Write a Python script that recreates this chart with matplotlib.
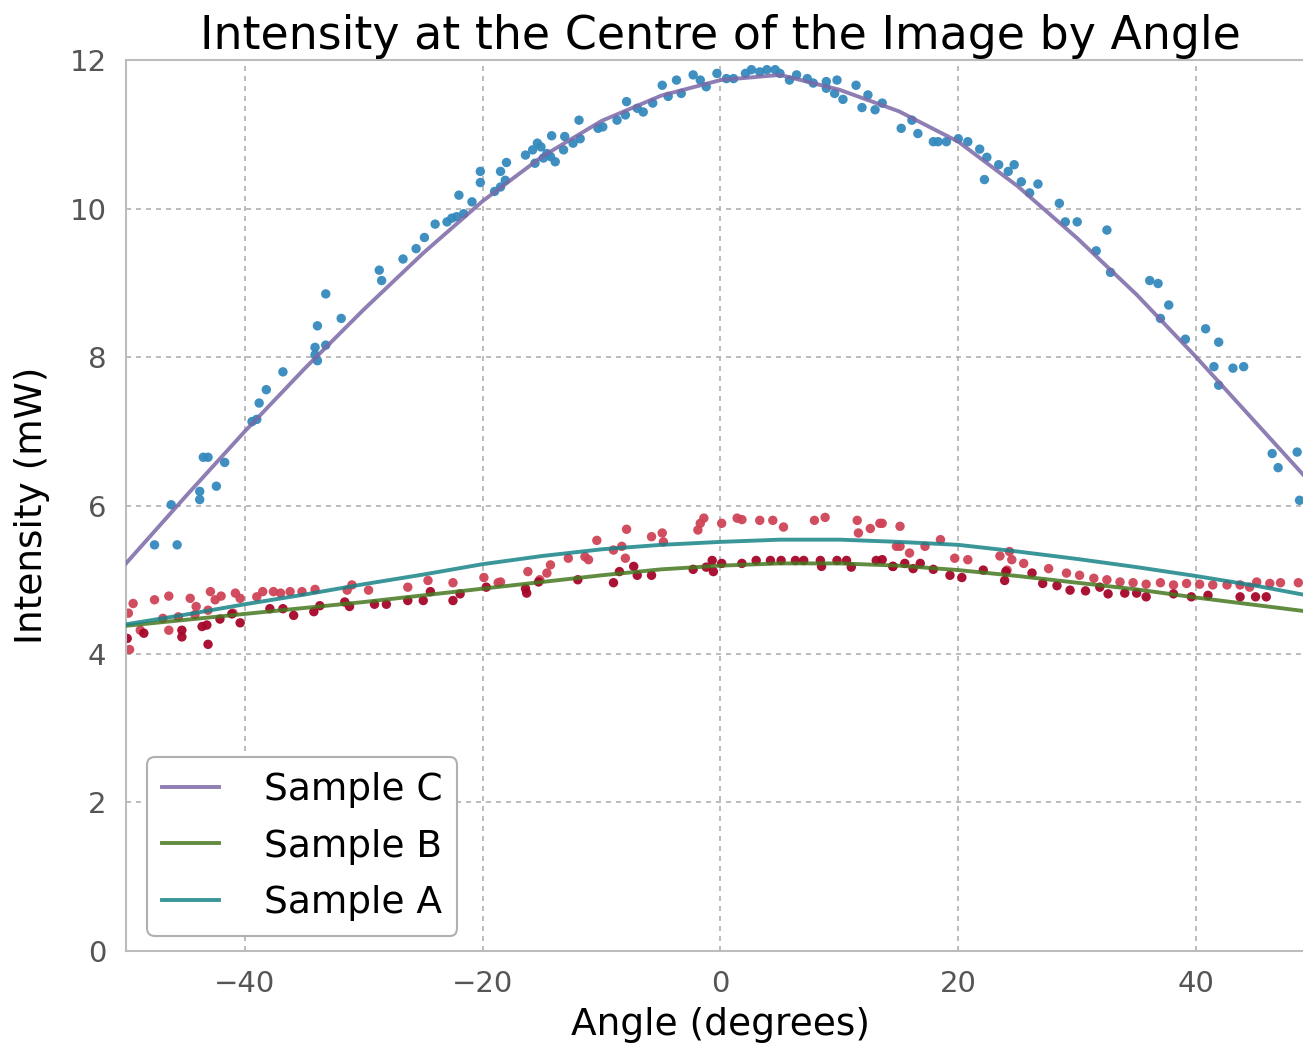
import matplotlib
matplotlib.use("Agg")
import matplotlib.pyplot as plt

# fitted curves, every 5 degrees
curve_x = [-50, -45, -40, -35, -30, -25, -20, -15, -10, -5, 0,
           5, 10, 15, 20, 25, 30, 35, 40, 45, 50]
curve_c = [5.22, 6.12, 7.00, 7.84, 8.64, 9.40, 10.10, 10.70, 11.18, 11.52, 11.73,
           11.80, 11.60, 11.31, 10.90, 10.30, 9.60, 8.84, 8.00, 7.12, 6.24]
curve_b = [4.38, 4.46, 4.54, 4.62, 4.70, 4.79, 4.88, 4.97, 5.06, 5.14, 5.19,
           5.22, 5.22, 5.19, 5.13, 5.05, 4.96, 4.87, 4.76, 4.66, 4.56]
curve_a = [4.40, 4.53, 4.67, 4.80, 4.94, 5.07, 5.21, 5.32, 5.41, 5.47, 5.51,
           5.54, 5.54, 5.51, 5.47, 5.38, 5.28, 5.17, 5.05, 4.92, 4.77]

# measured points, sample C
c_x = [-47.6, -45.7, -46.2, -43.8, -43.8, -42.4, -43.5, -43.1, -41.7, -39.4, -39.0,
       -38.8, -38.2, -36.8, -34.1, -33.2, -33.9, -34.1, -33.9, -33.2, -31.9, -28.7,
       -28.5, -26.7, -25.6, -24.9, -24.0, -23.0, -22.6, -22.2, -21.6, -22.0, -20.9,
       -20.2, -20.2, -19.0, -18.5, -18.1, -18.5, -18.0, -16.4, -15.8, -15.4, -15.1,
       -15.6, -14.9, -14.3, -13.9, -14.6, -14.2, -13.2, -13.1, -12.4, -11.8, -11.9,
       -10.3, -9.9, -8.7, -8.0, -7.9, -7.0, -6.5, -5.7, -4.9, -4.4, -3.7, -3.3,
       -2.3, -1.7, -1.2, -0.3, 0.5, 1.1, 2.1, 2.6, 3.3, 3.9, 4.6, 5.0, 5.8, 6.4,
       7.3, 7.8, 8.9, 9.8, 8.9, 9.6, 10.3, 11.4, 11.9, 12.4, 13.0, 13.6, 15.2,
       16.1, 16.6, 17.9, 18.3, 19.0, 20.0, 20.8, 21.8, 22.4, 22.2, 23.4, 24.2,
       24.7, 25.3, 26.0, 26.7, 28.5, 29.0, 30.0, 32.5, 31.6, 32.8, 36.1, 36.8,
       37.7, 37.0, 39.1, 40.8, 41.9, 41.5, 43.1, 44.0, 41.9, 46.4, 46.9, 48.5, 48.7]
c_y = [5.47, 5.47, 6.01, 6.19, 6.08, 6.26, 6.65, 6.65, 6.58, 7.13, 7.16,
       7.38, 7.56, 7.80, 8.13, 8.16, 7.95, 8.03, 8.42, 8.85, 8.52, 9.17,
       9.03, 9.32, 9.46, 9.61, 9.79, 9.82, 9.87, 9.89, 9.93, 10.18, 10.09,
       10.35, 10.50, 10.23, 10.29, 10.38, 10.50, 10.62, 10.72, 10.79, 10.88, 10.83,
       10.61, 10.68, 10.70, 10.63, 10.74, 10.98, 10.79, 10.97, 10.88, 10.94, 11.19,
       11.08, 11.10, 11.19, 11.26, 11.44, 11.35, 11.30, 11.42, 11.66, 11.51, 11.73, 11.55,
       11.80, 11.73, 11.64, 11.82, 11.75, 11.75, 11.82, 11.87, 11.84, 11.87, 11.87, 11.82, 11.73, 11.80,
       11.75, 11.69, 11.71, 11.73, 11.62, 11.55, 11.47, 11.66, 11.36, 11.53, 11.33, 11.42, 11.08,
       11.19, 11.01, 10.90, 10.90, 10.90, 10.94, 10.90, 10.80, 10.69, 10.39, 10.59, 10.50,
       10.59, 10.36, 10.21, 10.33, 10.07, 9.82, 9.82, 9.71, 9.43, 9.14, 9.03, 8.99,
       8.70, 8.52, 8.24, 8.38, 8.20, 7.87, 7.85, 7.87, 7.62, 6.70, 6.51, 6.72, 6.07]

# measured points, sample A (light red)
a_x = [-49.4, -49.8, -47.6, -46.4, -44.6, -44.1, -42.9, -42.5, -42.0, -40.8, -40.4,
       -39.0, -38.5, -37.6, -37.0, -36.2, -35.2, -34.1, -31.4, -31.0, -29.6, -26.3,
       -24.6, -22.5, -19.9, -18.7, -48.8, -46.4, -49.7, -44.2, -45.6, -46.9, -43.1, -41.0,
       -18.5, -16.2, -15.2, -14.6, -14.3, -12.8, -11.4, -11.1, -10.4, -9.0, -8.3, -8.0,
       -7.9, -5.8, -4.9, -4.8, -1.9, -1.4, -1.7, 0.1, 1.4, 1.8, 3.3, 4.4, 5.3, 7.9, 8.8,
       11.5, 11.6, 12.6, 13.4, 14.8,
       13.6, 15.1, 15.1, 15.9, 17.2, 18.5, 19.7, 20.8, 23.5, 24.3, 24.5, 25.5, 24.1,
       27.6, 29.1, 30.2, 31.4, 32.5, 33.6, 34.7, 35.8, 37.0, 38.1, 39.2, 40.3, 41.4,
       42.6, 43.7, 45.1, 46.2, 47.1, 48.6, 44.5]
a_y = [4.68, 4.55, 4.73, 4.78, 4.75, 4.64, 4.84, 4.73, 4.78, 4.82, 4.75,
       4.77, 4.84, 4.84, 4.82, 4.84, 4.84, 4.87, 4.86, 4.93, 4.86, 4.90,
       4.99, 4.96, 5.03, 4.96, 4.32, 4.32, 4.06, 4.53, 4.50, 4.48, 4.59, 4.55,
       4.97, 5.11, 5.00, 5.09, 5.20, 5.29, 5.31, 5.27, 5.53, 5.40, 5.45, 5.29,
       5.68, 5.58, 5.63, 5.51, 5.67, 5.83, 5.76, 5.76, 5.83, 5.81, 5.80, 5.80, 5.71, 5.80, 5.84,
       5.80, 5.63, 5.69, 5.76, 5.45,
       5.76, 5.72, 5.45, 5.36, 5.45, 5.54, 5.29, 5.27, 5.32, 5.38, 5.27, 5.22, 5.13,
       5.15, 5.09, 5.06, 5.02, 5.00, 4.97, 4.96, 4.94, 4.96, 4.93, 4.95, 4.94, 4.93,
       4.93, 4.93, 4.97, 4.95, 4.96, 4.96, 4.90]

# measured points, sample B (dark red)
b_x = [-49.9, -48.5, -45.3, -45.3, -43.6, -43.2, -43.1, -42.1, -40.4, -41.1, -37.9,
       -36.8, -35.9, -34.2, -33.7, -31.6, -31.2, -29.1, -28.1, -26.3, -25.0, -24.4,
       -22.5, -21.9, -19.7,
       -16.4, -16.3, -15.3, -12.0, -9.0, -8.5, -7.3, -7.0, -5.8, -2.3, -1.2, -0.7,
       -0.6, 0.1, 1.8, 3.0, 4.2, 5.1, 6.3, 7.0, 8.4, 8.5, 9.8, 10.6, 11.0, 13.1, 14.5,
       13.6, 14.5, 15.5, 16.2, 16.8, 17.9, 19.3, 20.3, 22.1, 23.9, 24.0, 26.2, 27.1,
       28.3, 29.4, 30.7, 31.9, 32.6, 34.0, 35.0, 35.8, 38.1, 39.6, 41.0, 43.7, 45.0, 45.9]
b_y = [4.21, 4.28, 4.32, 4.23, 4.37, 4.39, 4.13, 4.47, 4.42, 4.54, 4.61,
       4.61, 4.52, 4.57, 4.65, 4.70, 4.64, 4.67, 4.67, 4.72, 4.72, 4.84,
       4.72, 4.81, 4.90,
       4.88, 4.82, 4.97, 5.00, 4.96, 5.11, 5.18, 5.06, 5.06, 5.14, 5.17, 5.26,
       5.11, 5.22, 5.22, 5.26, 5.26, 5.26, 5.26, 5.26, 5.26, 5.18, 5.26, 5.26, 5.17, 5.26, 5.18,
       5.27, 5.18, 5.22, 5.15, 5.22, 5.14, 5.06, 5.03, 5.13, 4.99, 5.11, 5.09, 4.95,
       4.92, 4.86, 4.85, 4.90, 4.81, 4.82, 4.82, 4.77, 4.81, 4.77, 4.79, 4.77, 4.77, 4.77]

plt.rcParams['font.family'] = ['DejaVu Sans']

fig = plt.figure(figsize=(13.03, 10.55), dpi=100)
ax = fig.add_axes([0.0967, 0.0986, 0.9125, 0.8445])

ax.scatter(c_x, c_y, s=46, color='#348ABD', edgecolors='none', alpha=0.95, zorder=2)
ax.scatter(a_x, a_y, s=46, color='#CF4457', edgecolors='none', alpha=0.95, zorder=2)
ax.scatter(b_x, b_y, s=46, color='#A60628', edgecolors='none', alpha=0.95, zorder=2)

ax.plot(curve_x, curve_c, color='#7A68A6', lw=2.8, alpha=0.85, label='Sample C', zorder=3)
ax.plot(curve_x, curve_b, color='#467821', lw=2.8, alpha=0.85, label='Sample B', zorder=3)
ax.plot(curve_x, curve_a, color='#188487', lw=2.8, alpha=0.85, label='Sample A', zorder=3)

ax.set_xlim(-50, 50)
ax.set_ylim(0, 12)
ax.set_xticks([-40, -20, 0, 20, 40])
ax.set_yticks([0, 2, 4, 6, 8, 10, 12])

ax.grid(True, color='#b0b0b0', linestyle=(0, (3, 3)), linewidth=1.2)
ax.set_axisbelow(True)
for sp in ax.spines.values():
    sp.set_color('#bcbcbc')
    sp.set_linewidth(1.5)
ax.tick_params(length=0, labelsize=21, labelcolor='#555555', pad=14)

ax.set_title('Intensity at the Centre of the Image by Angle', fontsize=33, pad=8)
ax.set_xlabel('Angle (degrees)', fontsize=27, labelpad=6)
ax.set_ylabel('Intensity (mW)', fontsize=27, labelpad=14)

leg = ax.legend(loc='lower left', bbox_to_anchor=(0.018, 0.017), borderaxespad=0,
                fontsize=27, handlelength=1.5, handletextpad=1.2, labelspacing=0.54,
                borderpad=0.4, fancybox=True, framealpha=1)
leg.get_frame().set_edgecolor('#b0b0b0')
leg.get_frame().set_linewidth(1.5)

fig.savefig('out.png', dpi=100)
